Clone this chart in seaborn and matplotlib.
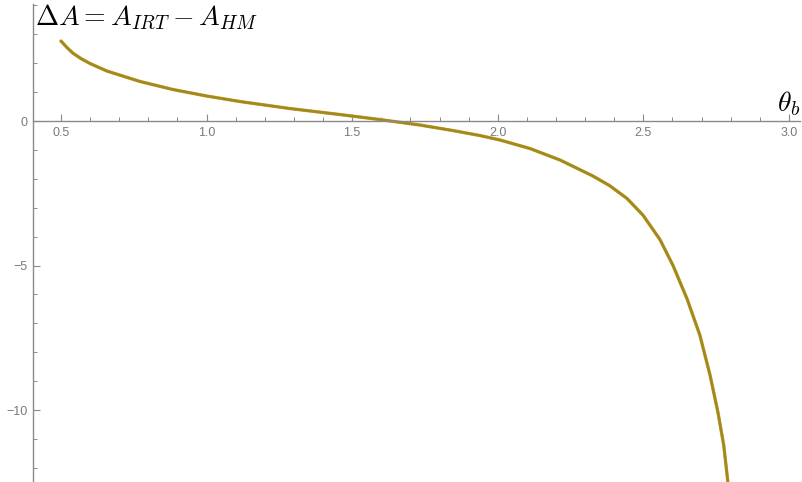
import matplotlib
matplotlib.use("Agg")
import matplotlib.pyplot as plt
import seaborn as sns
import pandas as pd
from matplotlib.ticker import MultipleLocator

# Difference of the two areas as a function of the boundary angle
theta_b = [0.500, 0.521, 0.541, 0.569, 0.600, 0.658, 0.771, 0.885, 1.001,
           1.115, 1.286, 1.458, 1.595, 1.733, 1.846, 1.939, 2.008, 2.111,
           2.214, 2.327, 2.385, 2.444, 2.499, 2.557, 2.602, 2.650, 2.694,
           2.729, 2.756, 2.776, 2.790]
delta_a = [2.77, 2.54, 2.35, 2.16, 1.99, 1.73, 1.37, 1.09, 0.865,
           0.675, 0.433, 0.225, 0.052, -0.138, -0.329, -0.502, -0.657,
           -0.952, -1.349, -1.903, -2.24, -2.68, -3.26, -4.10, -5.00,
           -6.15, -7.405, -8.789, -10.069, -11.211, -12.46]

x_ticks = [0.5, 1.0, 1.5, 2.0, 2.5, 3.0]
x_tick_labels = ["0.5", "1.0", "1.5", "2.0", "2.5", "3.0"]
y_ticks = [0, -5, -10]
y_tick_labels = ["0", "\u22125", "\u221210"]

df = pd.DataFrame({"theta_b": theta_b, "delta_a": delta_a})

sns.set_theme(style="white")
plt.rcParams["font.family"] = ["Liberation Sans", "DejaVu Sans"]
plt.rcParams["mathtext.fontset"] = "cm"

fig = plt.figure(figsize=(8.02, 4.82), dpi=100)
ax = fig.add_axes([33 / 802, 0.0, 767 / 802, 478 / 482])

# overlapping curves give the olive stroke with orange fringe
sns.lineplot(data=df, x="theta_b", y="delta_a", ax=ax, color="#d99a2a",
             linewidth=2.4, solid_joinstyle="round")
sns.lineplot(data=df, x="theta_b", y="delta_a", ax=ax, color="#9a8c1e",
             linewidth=1.8, solid_joinstyle="round")

ax.set_xlim(0.404, 3.038)
ax.set_ylim(-12.49, 4.05)

axis_grey = "#8a8a8a"
ax.spines["left"].set_position(("data", 0.404))
ax.spines["bottom"].set_position(("data", 0))
ax.spines["top"].set_visible(False)
ax.spines["right"].set_visible(False)
for s in ("left", "bottom"):
    ax.spines[s].set_color(axis_grey)
    ax.spines[s].set_linewidth(1.0)

ax.set_xticks(x_ticks)
ax.set_xticklabels(x_tick_labels)
ax.set_yticks(y_ticks)
ax.set_yticklabels(y_tick_labels)
ax.xaxis.set_minor_locator(MultipleLocator(0.1))
ax.yaxis.set_minor_locator(MultipleLocator(1))

ax.tick_params(axis="x", which="major", direction="in", length=5, width=0.8,
               color=axis_grey, labelcolor="#7a7a7a", labelsize=9, pad=4)
ax.tick_params(axis="x", which="minor", direction="in", length=3, width=0.7,
               color=axis_grey)
ax.tick_params(axis="y", which="major", direction="in", length=5, width=0.8,
               color=axis_grey, labelcolor="#7a7a7a", labelsize=9, pad=4)
ax.tick_params(axis="y", which="minor", direction="in", length=3, width=0.7,
               color=axis_grey)
ax.tick_params(bottom=True, left=True, which="both")

ax.set_xlabel("")
ax.set_ylabel("")

fig.text(35 / 802, 1 - 3 / 482, r"$\Delta A = A_{IRT} - A_{HM}$",
         fontsize=20, ha="left", va="top", color="black")
ax.text(3.038, 0.12, r"$\theta_b$", fontsize=20, ha="right", va="bottom",
        color="black")

fig.savefig("out.png", dpi=100)
